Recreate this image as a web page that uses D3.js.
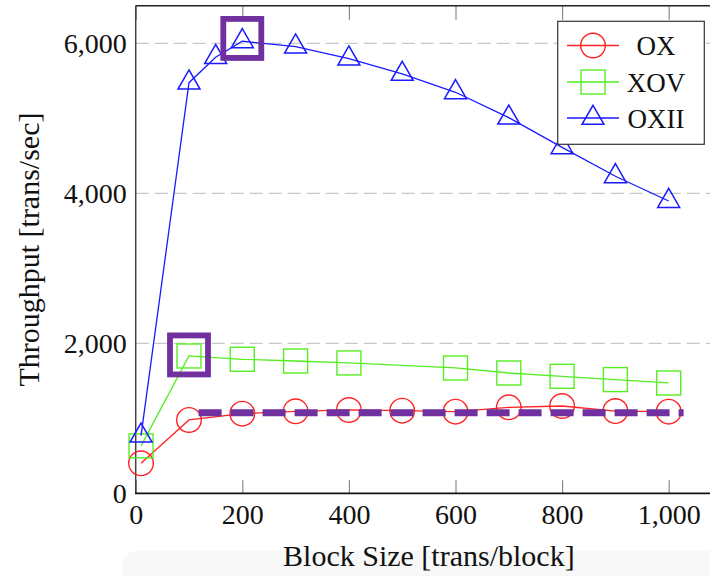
<!DOCTYPE html>
<html>
<head>
<meta charset="utf-8">
<script src="https://cdn.jsdelivr.net/npm/d3@7/dist/d3.min.js"></script>
<style>
  html, body { margin: 0; padding: 0; background: #fff; }
  svg { display: block; }
  svg text { font-family: "DejaVu Serif", serif; fill: #111; }
  svg text.tm { font-family: "Liberation Serif", "DejaVu Serif", serif; }
</style>
</head>
<body>
<div id="chart"></div>
<script>
// Throughput vs. block size for three protocols
const oxX    = [10, 100, 200, 300, 400, 500, 600, 700, 800, 900, 1000];
const oxY    = [400, 978, 1062, 1093, 1111, 1102, 1089, 1146, 1164, 1097, 1089];

const xovX   = [10, 100, 200, 300, 400, 600, 700, 800, 900, 1000];
const xovY   = [632, 1831, 1787, 1764, 1738, 1671, 1604, 1560, 1516, 1471];

const oxiiX  = [10, 100, 150, 200, 300, 400, 500, 600, 700, 800, 900, 1000];
const oxiiY  = [768, 5475, 5815, 6027, 5955, 5795, 5591, 5347, 5008, 4613, 4227, 3897];

const seriesNames = ["OX", "XOV", "OXII"];
const xTicks = [0, 200, 400, 600, 800, 1000];
const yTicks = [0, 2000, 4000, 6000];
const xDomain = [0, 1100];
const yDomain = [0, 6500];

// Highlighted points and the reference level drawn over the OX series
const highlightX = [200, 100];
const highlightY = [6065, 1845];
const refLevel = 1075;
const refFrom = 118;
const refTo = 1028;

const W = 710, H = 576;
const plotL = 135.7, plotR = 722, plotT = 5.8, plotB = 493.3;

const svg = d3.select("#chart").append("svg")
  .attr("width", W).attr("height", H);

// faint backdrop under the x-axis title
svg.append("rect")
  .attr("x", 122).attr("y", 551).attr("width", 620).attr("height", 60)
  .attr("rx", 14).attr("fill", "#f8f8f8");

const x = d3.scaleLinear().domain(xDomain).range([plotL, plotR]);
const y = d3.scaleLinear().domain(yDomain).range([plotB, plotT]);

// horizontal grid
svg.append("g").selectAll("line")
  .data(yTicks.filter(v => v > 0))
  .join("line")
  .attr("x1", plotL).attr("x2", plotR)
  .attr("y1", d => y(d)).attr("y2", d => y(d))
  .attr("stroke", "#c8c8c8").attr("stroke-width", 1.2)
  .attr("stroke-dasharray", "13,6");

// bottom axis with inward ticks
const gx = svg.append("g")
  .attr("transform", `translate(0,${plotB})`)
  .call(d3.axisBottom(x).tickValues(xTicks).tickFormat(d3.format(","))
    .tickSizeInner(-13).tickSizeOuter(0).tickPadding(11));
gx.attr("font-family", null);
gx.select(".domain").remove();
gx.selectAll(".tick line").attr("stroke", "#8a8a8a").attr("stroke-width", 1.2);
gx.selectAll(".tick text").attr("class", "tm").attr("font-size", 28).attr("fill", "#111");

// top ticks
const gxt = svg.append("g")
  .attr("transform", `translate(0,${plotT})`)
  .call(d3.axisTop(x).tickValues(xTicks).tickFormat("")
    .tickSizeInner(-14).tickSizeOuter(0));
gxt.select(".domain").remove();
gxt.selectAll(".tick line").attr("stroke", "#8a8a8a").attr("stroke-width", 1.2);

// left axis labels
const gy = svg.append("g")
  .attr("transform", `translate(${plotL},0)`)
  .call(d3.axisLeft(y).tickValues(yTicks).tickFormat(d3.format(","))
    .tickSize(0).tickPadding(9));
gy.attr("font-family", null);
gy.select(".domain").remove();
gy.selectAll(".tick text").attr("class", "tm").attr("font-size", 28).attr("fill", "#111");

// frame lines
svg.append("line").attr("x1", plotL).attr("x2", plotL).attr("y1", plotT).attr("y2", plotB)
  .attr("stroke", "#444").attr("stroke-width", 1.5);
svg.append("line").attr("x1", plotL).attr("x2", W + 20).attr("y1", plotT).attr("y2", plotT)
  .attr("stroke", "#222").attr("stroke-width", 1.5);
svg.append("line").attr("x1", plotL - 0.7).attr("x2", W + 20).attr("y1", plotB).attr("y2", plotB)
  .attr("stroke", "#111").attr("stroke-width", 1.8);

// axis titles
svg.append("text").attr("class", "tm")
  .attr("x", (plotL + plotR) / 2).attr("y", 566)
  .attr("text-anchor", "middle").attr("font-size", 30)
  .text("Block Size [trans/block]");
svg.append("text").attr("class", "tm")
  .attr("transform", `translate(39,${(plotT + plotB) / 2}) rotate(-90)`)
  .attr("text-anchor", "middle").attr("font-size", 30)
  .text("Throughput [trans/sec]");

// marker shapes
const R = 12.7;
const triPath = `M0,${-R} L${R * Math.sqrt(3) / 2},${R / 2} L${-R * Math.sqrt(3) / 2},${R / 2} Z`;
function drawMarker(g, kind, color) {
  if (kind === "circle") {
    g.append("circle").attr("r", 12.3).attr("fill", "none")
      .attr("stroke", color).attr("stroke-width", 1.4);
  } else if (kind === "square") {
    g.append("rect").attr("x", -12).attr("y", -12).attr("width", 24).attr("height", 24)
      .attr("fill", "none").attr("stroke", color).attr("stroke-width", 1.4);
  } else {
    g.append("path").attr("d", triPath).attr("fill", "none")
      .attr("stroke", color).attr("stroke-width", 1.5);
  }
}

const series = [
  { name: seriesNames[0], xs: oxX,   ys: oxY,   color: "#ff2222", kind: "circle" },
  { name: seriesNames[1], xs: xovX,  ys: xovY,  color: "#55ee22", kind: "square" },
  { name: seriesNames[2], xs: oxiiX, ys: oxiiY, color: "#1a1aff", kind: "triangle" }
];

const line = d3.line().x(d => x(d[0])).y(d => y(d[1]));

series.forEach(s => {
  const pts = s.xs.map((v, i) => [v, s.ys[i]]);
  const g = svg.append("g");
  g.append("path").datum(pts).attr("d", line)
    .attr("fill", "none").attr("stroke", s.color).attr("stroke-width", 1.3);
  pts.forEach(p => {
    const m = g.append("g").attr("transform", `translate(${x(p[0])},${y(p[1])})`);
    drawMarker(m, s.kind, s.color);
  });
});

// reference level
svg.append("line")
  .attr("x1", x(refFrom)).attr("x2", x(refTo))
  .attr("y1", y(refLevel)).attr("y2", y(refLevel))
  .attr("stroke", "#7030a0").attr("stroke-width", 7)
  .attr("stroke-dasharray", "23,9");

// highlight boxes
highlightX.forEach((hx, i) => {
  svg.append("rect")
    .attr("x", x(hx) - 19).attr("y", y(highlightY[i]) - 19.5)
    .attr("width", 38).attr("height", 39)
    .attr("fill", "none").attr("stroke", "#7030a0").attr("stroke-width", 5.8);
});

// legend
const lg = svg.append("g");
lg.append("rect").attr("x", 557.7).attr("y", 21.3).attr("width", 146.6).attr("height", 123)
  .attr("fill", "#fff").attr("stroke", "#333").attr("stroke-width", 1.2);
const rowsY = [45.5, 82, 118];
series.forEach((s, i) => {
  const ry = rowsY[i];
  lg.append("line").attr("x1", 567).attr("x2", 619).attr("y1", ry).attr("y2", ry)
    .attr("stroke", s.color).attr("stroke-width", 1.3);
  const m = lg.append("g").attr("transform", `translate(593,${ry})`);
  drawMarker(m, s.kind, s.color);
  lg.append("text").attr("class", "tm").attr("x", 656).attr("y", ry + 9.5)
    .attr("text-anchor", "middle").attr("font-size", 27)
    .text(s.name);
});
</script>
</body>
</html>
